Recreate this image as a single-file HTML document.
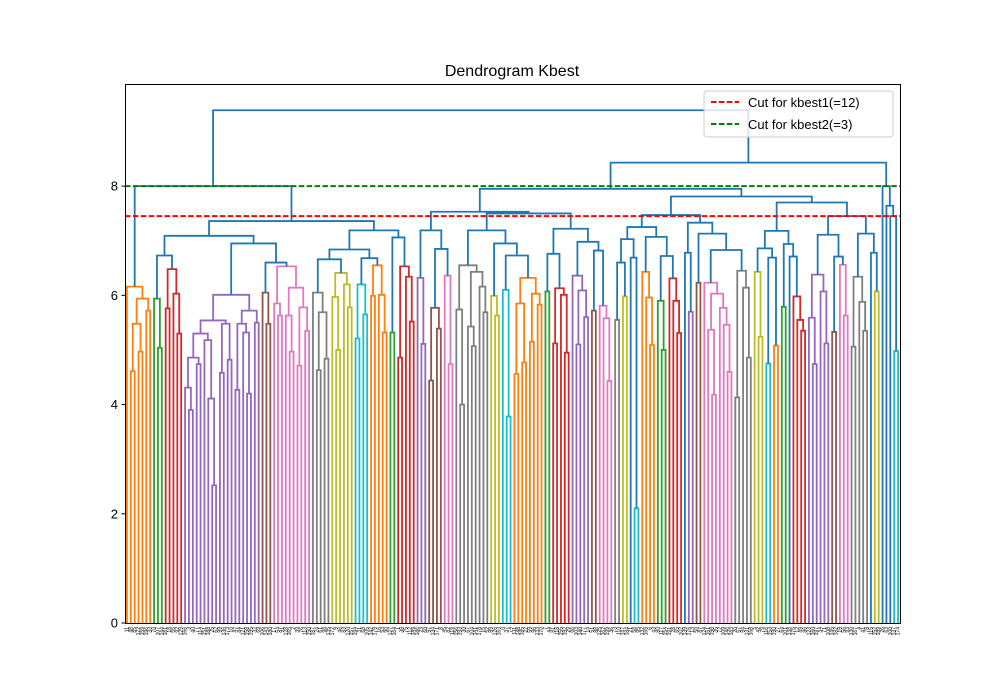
<!DOCTYPE html>
<html><head><meta charset="utf-8"><style>
body{margin:0;background:#fff;}
svg{display:block;font-family:"Liberation Sans",sans-serif;}
</style></head><body>
<svg id="chart" width="1000" height="700" viewBox="0 0 1000 700" xmlns="http://www.w3.org/2000/svg">
<rect width="1000" height="700" fill="#fff"/>
<text x="512" y="76" text-anchor="middle" font-size="16">Dendrogram Kbest</text>
<g id="marks"></g>
<g id="yaxis"></g>
<g id="labels"></g>
<rect x="125.5" y="84.5" width="775" height="539" fill="none" stroke="#000" stroke-width="1"/>
<g>
<rect x="704" y="91" width="189" height="46" rx="3" fill="#fff" fill-opacity="0.8" stroke="#ccc"/>
<line x1="711" y1="102" x2="739" y2="102" stroke="#ff0000" stroke-width="2" stroke-dasharray="5.5,2.4"/>
<text x="748" y="107" font-size="13">Cut for kbest1(=12)</text>
<line x1="711" y1="124" x2="739" y2="124" stroke="#008000" stroke-width="2" stroke-dasharray="5.5,2.4"/>
<text x="748" y="129" font-size="13">Cut for kbest2(=3)</text>
</g>
</svg>
<script>
const palette = ['#1f77b4','#ff7f0e','#2ca02c','#d62728','#9467bd','#8c564b','#e377c2','#7f7f7f','#bcbd22','#17becf'];
const yTicks = [0,2,4,6,8];
const cutHeights = [7.45, 8.0];
const cutColors = ['#ff0000','#008000'];
function C(ci,t){return {c:ci,t:t};}
const leftTree = [8.0, C(1,[6.16,0,[5.94,[5.48,[4.61,0,0],[4.97,0,0]],[5.72,0,0]]]),
 [7.36,
  [7.09,[6.73,C(2,[5.94,0,[5.04,0,0]]),C(3,[6.48,[5.76,0,0],[6.03,0,[5.3,0,0]]])],
   [6.95,C(4,[6.01,[5.54,[5.3,[4.86,[4.31,0,[3.9,0,0]],[4.74,0,0]],[5.18,0,[4.11,0,[2.52,0,0]]]],[5.48,[4.58,0,0],[4.82,0,0]]],[5.72,[5.48,[4.27,0,0],[5.32,0,[4.2,0,0]]],[5.5,0,0]]]),
    [6.6,C(5,[6.05,0,[5.48,0,0]]),C(6,[6.53,[5.85,0,[5.63,0,0]],[6.14,[5.63,0,[4.97,0,0]],[5.78,[4.71,0,0],[5.35,0,0]]]])]]],
  [7.19,[6.84,[6.66,C(7,[6.05,0,[5.69,[4.63,0,0],[4.84,0,0]]]),C(8,[6.41,[5.97,0,[5.0,0,0]],[6.2,0,[5.78,0,0]]])],
    [6.68,C(9,[6.2,[5.21,0,0],[5.65,0,0]]),C(1,[6.55,[5.99,0,0],[6.01,0,[5.32,0,0]]])]],
   [7.06,C(2,[5.32,0,0]),C(3,[6.53,[4.86,0,0],[6.34,0,[5.52,0,0]]])]]]];
const n430 = [7.19, C(4,[6.32,0,[5.11,0,0]]), [6.85, C(5,[5.77,[4.44,0,0],[5.39,0,0]]), C(6,[6.36,0,[4.74,0,0]])]];
const n486 = [7.19, C(7,[6.55,[5.74,0,[4.0,0,0]],[6.43,[5.43,0,[5.07,0,0]],[6.16,0,[5.69,0,0]]]]), [6.95, C(8,[5.99,0,[5.63,0,0]]), [6.73, C(9,[6.1,0,[3.78,0,0]]), C(1,[6.32,[5.85,[4.56,0,0],[4.77,0,0]],[6.03,[5.15,0,0],[5.83,0,0]]])]]];
const n571 = [7.22, [6.76, C(2,[6.07,0,0]), C(3,[6.13,[5.12,0,0],[6.01,0,[4.95,0,0]]])], [6.98, C(4,[6.36,0,[6.09,[5.1,0,0],[5.6,0,0]]]), [6.82, C(5,[5.72,0,0]), C(6,[5.81,0,[5.58,0,[4.43,0,0]]])]]];
const n641 = [7.25, [7.03,[6.6,C(7,[5.55,0,0]),C(8,[5.98,0,0])],[6.69,0,C(9,[2.1,0,0])]], [7.07, C(1,[6.43,0,[5.96,0,[5.09,0,0]]]), [6.72, C(2,[5.9,0,[5.0,0,0]]), C(3,[6.31,0,[5.9,0,[5.31,0,0]]])]]];
const n700 = [7.33, [6.78,0,C(4,[5.7,0,0])], [7.13, C(5,[6.23,0,0]), [6.83, C(6,[6.23,0,[6.03,[5.37,0,[4.18,0,0]],[5.77,0,[5.46,0,[4.6,0,0]]]]]), C(7,[6.45,[4.13,0,0],[6.14,0,[4.86,0,0]]])]]];
const n765 = [7.18, [6.86, C(8,[6.43,0,[5.24,0,0]]), [6.69, C(9,[4.75,0,0]), C(1,[5.08,0,0])]], [6.94, C(2,[5.79,0,0]), [6.71, 0, C(3,[5.98,0,[5.55,0,[5.35,0,0]]])]]];
const n828 = [7.11, C(4,[6.38,[5.59,0,[4.74,0,0]],[6.07,0,[5.12,0,0]]]), [6.71, C(5,[5.33,0,0]), C(6,[6.56,0,[5.63,0,0]])]];
const n866 = [7.13, C(7,[6.34,[5.06,0,0],[5.88,0,[5.35,0,0]]]), [6.78, 0, C(8,[6.07,0,0])]];
const rightTree = [8.43, [7.95,[7.53,n430,[7.5,n486,n571]],[7.81,[7.47,n641,n700],[7.7,n765,[7.45,n828,n866]]]],
  [8.0, 0, [7.64, 0, [7.45, 0, C(9,[4.98,0,0])]]]];
const rootTree = [9.39, leftTree, rightTree];

const X0=125, X1=900, Y0=623, YMAX=9.87, PPU=(623-84)/YMAX;
function countLeaves(t){ if(t===0) return 1; if(t.c!==undefined) return countLeaves(t.t); return countLeaves(t[1])+countLeaves(t[2]); }
const N = countLeaves(rootTree);
function xScale(i){ return X0 + (i+0.5)*(X1-X0)/N; }
function yScale(h){ return Y0 - h*PPU; }
const NS='http://www.w3.org/2000/svg';
const marks=document.getElementById('marks');
let leafIdx=0;
function draw(t,col){
  if(t===0){ const x=xScale(leafIdx); leafIdx++; return {x:x,h:0}; }
  if(t.c!==undefined) return draw(t.t, palette[t.c]);
  const a=draw(t[1],col), b=draw(t[2],col), h=t[0];
  const p=document.createElementNS(NS,'path');
  p.setAttribute('d','M'+a.x+','+yScale(a.h)+'V'+yScale(h)+'H'+b.x+'V'+yScale(b.h));
  p.setAttribute('fill','none'); p.setAttribute('stroke',col); p.setAttribute('stroke-width','1.8');
  
  
  marks.appendChild(p);
  return {x:(a.x+b.x)/2,h:h};
}
draw(rootTree, palette[0]);
cutHeights.forEach((h,i)=>{
  const l=document.createElementNS(NS,'line');
  l.setAttribute('x1',X0); l.setAttribute('x2',X1); l.setAttribute('y1',yScale(h)); l.setAttribute('y2',yScale(h));
  l.setAttribute('stroke',cutColors[i]); l.setAttribute('stroke-width','2'); l.setAttribute('stroke-dasharray','5.5,2.4');
  
  
  marks.appendChild(l);
});
const yaxis=document.getElementById('yaxis');
yTicks.forEach(v=>{
  const y=yScale(v);
  const tk=document.createElementNS(NS,'line');
  tk.setAttribute('x1',X0-3.5); tk.setAttribute('x2',X0); tk.setAttribute('y1',y); tk.setAttribute('y2',y); tk.setAttribute('stroke','#000');
  
  
  yaxis.appendChild(tk);
  const tx=document.createElementNS(NS,'text');
  tx.setAttribute('x',X0-7); tx.setAttribute('y',y+4.5); tx.setAttribute('text-anchor','end'); tx.setAttribute('font-size','13');
  tx.textContent=v;
  
  
  yaxis.appendChild(tx);
});
const labels=document.getElementById('labels');
for(let i=0;i<N;i++){
  const x=xScale(i)+1.5;
  const tx=document.createElementNS(NS,'text');
  tx.setAttribute('transform','translate('+x+',627) rotate(-90)');
  tx.setAttribute('text-anchor','end'); tx.setAttribute('font-size','5');
  tx.textContent=String((i*37+11)%200);
  
  
  labels.appendChild(tx);
}
</script>
</body></html>
